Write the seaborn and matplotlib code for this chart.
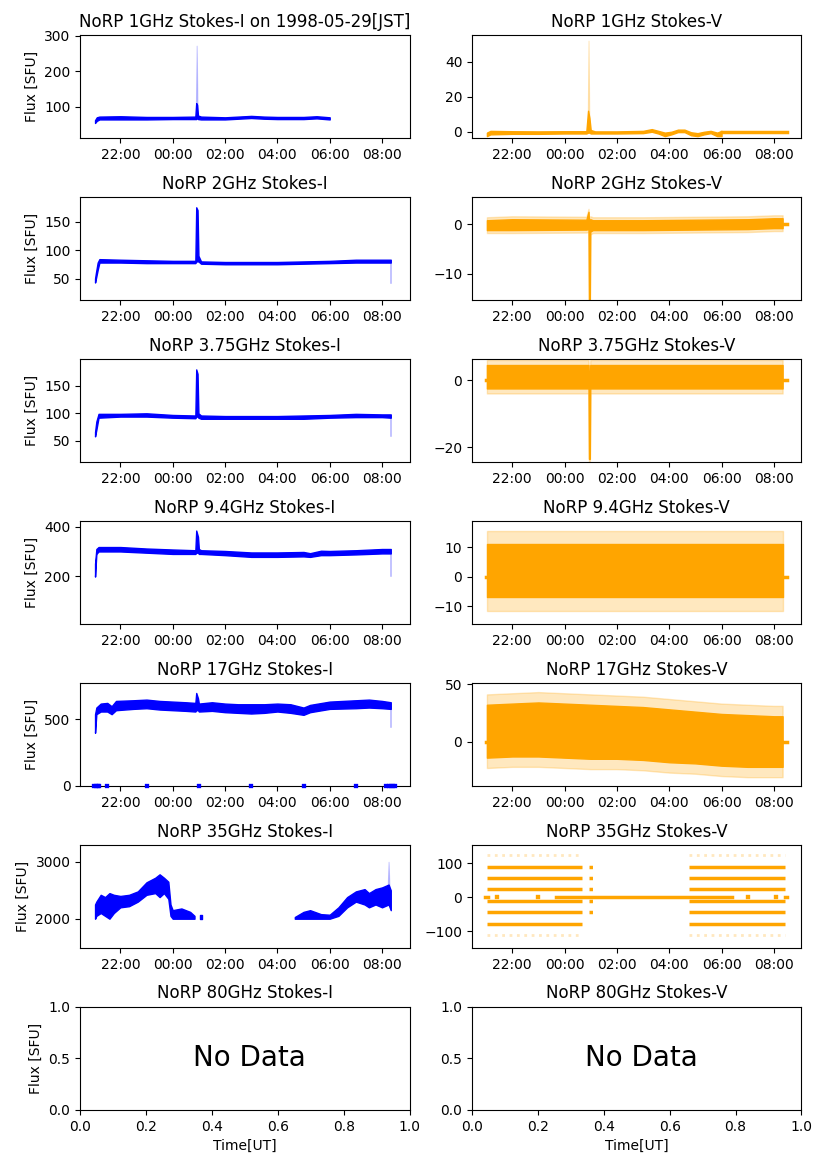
import numpy as np
import pandas as pd
import seaborn as sns
import matplotlib.pyplot as plt
import matplotlib.dates as mdates

# ---- data (times in UT, flux in SFU) ----
# 1 GHz
t_1g_i = ['21:02', '21:06', '21:12', '22:00', '23:00', '00:00', '00:52', '00:54', '00:56', '00:58', '01:05',
          '02:00', '03:00', '03:30', '04:00', '05:00', '05:30', '06:00']
lo_1g_i = [54, 60, 64, 64, 64, 65, 65, 65, 68, 65, 64, 64, 68, 66, 65, 65, 67, 64]
hi_1g_i = [62, 70, 72, 73, 71, 71, 72, 110, 105, 75, 72, 70, 74, 72, 71, 71, 73, 70]
spike_t_1g_i = ['00:53', '00:55', '00:57']
spike_hi_1g_i = [72, 272, 80]

t_1g_v = ['21:02', '21:10', '22:00', '23:00', '00:00', '00:50', '00:54', '00:57', '01:00', '01:10', '02:00',
          '03:00', '03:20', '03:35', '03:50', '04:05', '04:20', '04:35', '04:50', '05:05', '05:20', '05:35',
          '05:50', '06:00']
lo_1g_v = [-2.5, -1.5, -1.2, -1.2, -1.0, -1.0, -0.5, -0.5, -1.0, -1.0, -1.0,
           -0.8, 0.0, -1.0, -2.5, -1.5, -0.2, -0.2, -2.0, -2.5, -1.5, -0.8, -2.5, -2.5]
hi_1g_v = [-0.5, 0.5, 0.3, 0.2, 0.3, 0.3, 12, 8, 1.0, 0.2, 0.2,
           0.5, 1.5, 0.5, -0.5, 0.0, 1.2, 1.2, -0.3, -0.8, 0.0, 0.5, -0.5, 0.5]
spike_t_1g_v = ['00:53', '00:55', '00:57']
spike_hi_1g_v = [1, 52, 2]
flat_t_1g_v = ['06:00', '08:30']

# 2 GHz
t_2g_i = ['21:02', '21:04', '21:08', '21:12', '22:00', '23:00', '00:00', '00:52', '00:54', '00:57', '00:59',
          '01:05', '02:00', '03:00', '04:00', '05:00', '06:00', '07:00', '08:00', '08:20']
lo_2g_i = [43, 50, 65, 78, 78, 77, 77, 77, 80, 80, 80, 76, 75, 75, 75, 76, 77, 78, 78, 78]
hi_2g_i = [50, 60, 78, 84, 83, 82, 81, 81, 175, 170, 90, 80, 79, 79, 79, 80, 81, 83, 83, 83]
drop_lo_2g_i = 42

t_2g_v = ['21:02', '22:00', '00:50', '00:55', '00:56', '00:58', '00:59', '01:05', '03:00', '05:00', '07:00',
          '08:00', '08:20']
lo_2g_v = [-1.2, -1.2, -1.1, -1.0, -15.5, -15.5, -1.5, -1.2, -1.2, -1.1, -1.0, -0.8, -0.8]
hi_2g_v = [0.8, 1.0, 0.9, 2.5, 0.5, 0.5, 1.0, 0.8, 0.8, 0.9, 1.0, 1.2, 1.2]
out_2g_v = 0.6

# 3.75 GHz
t_3g_i = ['21:02', '21:05', '21:10', '22:00', '23:00', '00:00', '00:52', '00:54', '00:57', '00:59', '01:05',
          '02:00', '03:00', '04:00', '05:00', '06:00', '07:00', '08:00', '08:20']
lo_3g_i = [58, 70, 92, 94, 94, 92, 91, 94, 94, 92, 90, 90, 90, 90, 90, 92, 93, 93, 92]
hi_3g_i = [66, 85, 99, 99, 100, 97, 96, 180, 172, 100, 96, 95, 95, 95, 96, 97, 99, 98, 98]
drop_lo_3g_i = 58

t_3g_v = ['21:02', '00:55', '00:56', '00:58', '00:59', '08:20']
lo_3g_v = [-2.5, -2.5, -23.5, -23.5, -2.5, -2.5]
hi_3g_v = [4.5, 4.5, 0.0, 0.0, 4.5, 4.5]
out_3g_v = 1.5

# 9.4 GHz
t_9g_i = ['21:02', '21:05', '21:10', '22:00', '23:00', '00:00', '00:52', '00:54', '00:58', '01:00', '01:05',
          '02:00', '03:00', '04:00', '05:00', '05:15', '05:40', '06:00', '07:00', '08:00', '08:20']
lo_9g_i = [198, 290, 300, 300, 295, 290, 290, 295, 295, 290, 290, 285, 278, 278, 280, 278, 285, 285, 288, 292, 292]
hi_9g_i = [250, 310, 318, 318, 312, 308, 305, 385, 360, 310, 305, 302, 296, 296, 298, 293, 303, 302, 305, 310, 310]
drop_lo_9g_i = 200

t_9g_v = ['21:02', '08:20']
lo_9g_v = [-7, -7]
hi_9g_v = [11, 11]
out_9g_v = 4.5

# 17 GHz
t_17g_i = ['21:02', '21:05', '21:15', '21:30', '21:40', '21:50', '22:30', '23:00', '23:30', '00:00', '00:30',
           '00:52', '00:54', '00:58', '01:00', '01:30', '02:00', '02:30', '03:00', '03:30', '04:00', '04:30',
           '05:00', '05:15', '06:00', '07:00', '07:30', '08:00', '08:20']
lo_17g_i = [400, 540, 560, 560, 540, 570, 580, 585, 575, 570, 565, 560, 570, 570, 560, 565, 555, 550, 545,
            550, 560, 550, 535, 555, 580, 585, 590, 585, 580]
hi_17g_i = [540, 590, 620, 625, 600, 640, 645, 650, 640, 635, 630, 625, 700, 660, 620, 630, 620, 615, 615,
            615, 620, 615, 590, 610, 635, 645, 650, 640, 630]
drop_lo_17g_i = 440
zero_t_17g_i = ['21:00', '21:04', '21:08', '21:12', '21:30', '23:00', '01:00', '03:00', '05:00', '07:00',
                '08:10', '08:15', '08:20', '08:25', '08:30']

t_17g_v = ['21:02', '22:00', '23:00', '00:00', '01:00', '02:00', '03:00', '04:00', '05:00', '06:00', '07:00',
           '08:00', '08:20']
lo_17g_v = [-14, -13, -13, -14, -15, -15, -16, -18, -19, -21, -22, -22, -22]
hi_17g_v = [32, 33, 34, 33, 32, 31, 30, 28, 26, 24, 23, 22, 22]
out_17g_v = 9

# 35 GHz
t_35g_i_a = ['21:02', '21:05', '21:15', '21:25', '21:35', '21:45', '22:00', '22:20', '22:40', '23:00', '23:20',
             '23:30', '23:40', '23:50', '23:55', '00:00', '00:20', '00:40', '00:50']
lo_35g_i_a = [2000, 2050, 2100, 2050, 2000, 2100, 2200, 2220, 2300, 2420, 2450, 2380, 2450, 2350, 2050, 2000,
              2000, 2000, 2000]
hi_35g_i_a = [2250, 2300, 2420, 2380, 2450, 2420, 2400, 2420, 2480, 2640, 2720, 2780, 2720, 2650, 2250, 2150,
              2180, 2120, 2050]
t_35g_i_b = ['04:40', '05:00', '05:15', '05:40', '06:00', '06:20', '06:40', '07:00', '07:20', '07:30', '07:45',
             '08:00', '08:15', '08:20']
lo_35g_i_b = [2000, 2000, 2000, 2000, 2000, 2050, 2200, 2300, 2250, 2200, 2250, 2200, 2250, 2150]
hi_35g_i_b = [2030, 2120, 2150, 2080, 2070, 2200, 2380, 2480, 2520, 2450, 2520, 2550, 2600, 2500]
t_35g_i_c = ['01:02', '01:07']
lo_35g_i_c = [2000, 2000]
hi_35g_i_c = [2060, 2060]

levels_35g_v = [89, 57, 23, -11, -45, -79]
sparse_levels_35g_v = [125, -113]
spans_35g_v = [('21:02', '00:40'), ('04:45', '08:25')]
bits_35g_v = [('00:55', '01:05')]
zero_spans_35g_v = [('20:58', '21:05'), ('23:40', '06:25'), ('08:25', '08:30')]
zero_dots_35g_v = ['21:25', '23:00', '07:00', '08:05']


def tt(times):
    s = pd.to_datetime(['1998-05-29 ' + x for x in times])
    hours = np.array([int(x.split(':')[0]) for x in times])
    return s - pd.to_timedelta(np.where(hours >= 12, 1, 0), unit='D')


BLUE = 'blue'
ORANGE = 'orange'

fig, axes = plt.subplots(7, 2, figsize=(8.27, 11.69))
plt.subplots_adjust(left=0.097, right=0.969, top=0.970, bottom=0.0505, wspace=0.19, hspace=0.57)


def band(ax, t, lo, hi, color, alpha=1.0):
    ax.fill_between(tt(t), lo, hi, color=color, alpha=alpha, lw=1.0)


def faint_drop(ax, top, bottom, color):
    x = tt(['08:19', '08:21'])
    ax.fill_between(x, [bottom, bottom], [top, top], color=color, alpha=0.2, lw=0.5)


def zero_dash(ax, t0, t1, color):
    sns.lineplot(x=tt([t0, t1]), y=[0, 0], color=color, lw=2.5, ax=ax)


# row 1: 1 GHz
ax = axes[0, 0]
band(ax, t_1g_i, lo_1g_i, hi_1g_i, BLUE)
ax.fill_between(tt(spike_t_1g_i), [70, 70, 70], spike_hi_1g_i, color=BLUE, alpha=0.2, lw=0.8)
ax.set_ylim(11, 302)
ax.set_title('NoRP 1GHz Stokes-I on 1998-05-29[JST]')

ax = axes[0, 1]
band(ax, t_1g_v, lo_1g_v, hi_1g_v, ORANGE)
ax.fill_between(tt(spike_t_1g_v), [0, 0, 0], spike_hi_1g_v, color=ORANGE, alpha=0.25, lw=0.8)
sns.lineplot(x=tt(flat_t_1g_v), y=[0, 0], color=ORANGE, lw=2.5, ax=ax)
ax.set_ylim(-3.7, 55.2)
ax.set_title('NoRP 1GHz Stokes-V')

# row 2: 2 GHz
ax = axes[1, 0]
band(ax, t_2g_i, lo_2g_i, hi_2g_i, BLUE)
faint_drop(ax, 80, drop_lo_2g_i, BLUE)
ax.set_ylim(12, 193)
ax.set_title('NoRP 2GHz Stokes-I')

ax = axes[1, 1]
band(ax, t_2g_v, np.array(lo_2g_v) - out_2g_v, np.array(hi_2g_v) + out_2g_v, ORANGE, alpha=0.25)
band(ax, t_2g_v, lo_2g_v, hi_2g_v, ORANGE)
zero_dash(ax, '08:20', '08:29', ORANGE)
ax.set_ylim(-15.4, 5.5)
ax.set_title('NoRP 2GHz Stokes-V')

# row 3: 3.75 GHz
ax = axes[2, 0]
band(ax, t_3g_i, lo_3g_i, hi_3g_i, BLUE)
faint_drop(ax, 95, drop_lo_3g_i, BLUE)
ax.set_ylim(11, 199)
ax.set_yticks([50, 100, 150])
ax.set_title('NoRP 3.75GHz Stokes-I')

ax = axes[2, 1]
band(ax, t_3g_v, np.array(lo_3g_v) - out_3g_v, np.array(hi_3g_v) + out_3g_v, ORANGE, alpha=0.25)
band(ax, t_3g_v, lo_3g_v, hi_3g_v, ORANGE)
zero_dash(ax, '20:59', '21:02', ORANGE)
zero_dash(ax, '08:20', '08:29', ORANGE)
ax.set_ylim(-24.5, 6.3)
ax.set_title('NoRP 3.75GHz Stokes-V')

# row 4: 9.4 GHz
ax = axes[3, 0]
band(ax, t_9g_i, lo_9g_i, hi_9g_i, BLUE)
faint_drop(ax, 300, drop_lo_9g_i, BLUE)
ax.set_ylim(5, 424)
ax.set_title('NoRP 9.4GHz Stokes-I')

ax = axes[3, 1]
band(ax, t_9g_v, np.array(lo_9g_v) - out_9g_v, np.array(hi_9g_v) + out_9g_v, ORANGE, alpha=0.25)
band(ax, t_9g_v, lo_9g_v, hi_9g_v, ORANGE)
zero_dash(ax, '20:59', '21:02', ORANGE)
zero_dash(ax, '08:20', '08:29', ORANGE)
ax.set_ylim(-16, 18.8)
ax.set_title('NoRP 9.4GHz Stokes-V')

# row 5: 17 GHz
ax = axes[4, 0]
band(ax, t_17g_i, lo_17g_i, hi_17g_i, BLUE)
faint_drop(ax, 600, drop_lo_17g_i, BLUE)
sns.scatterplot(x=tt(zero_t_17g_i), y=np.zeros(len(zero_t_17g_i)), color=BLUE, marker='s', s=8,
                edgecolor=BLUE, ax=ax, clip_on=False, zorder=3)
ax.set_ylim(-2, 776)
ax.set_title('NoRP 17GHz Stokes-I')

ax = axes[4, 1]
band(ax, t_17g_v, np.array(lo_17g_v) - out_17g_v, np.array(hi_17g_v) + out_17g_v, ORANGE, alpha=0.25)
band(ax, t_17g_v, lo_17g_v, hi_17g_v, ORANGE)
zero_dash(ax, '20:59', '21:02', ORANGE)
zero_dash(ax, '08:20', '08:29', ORANGE)
ax.set_ylim(-38.7, 51)
ax.set_title('NoRP 17GHz Stokes-V')

# row 6: 35 GHz
ax = axes[5, 0]
band(ax, t_35g_i_a, lo_35g_i_a, hi_35g_i_a, BLUE)
band(ax, t_35g_i_b, lo_35g_i_b, hi_35g_i_b, BLUE)
band(ax, t_35g_i_c, lo_35g_i_c, hi_35g_i_c, BLUE)
ax.fill_between(tt(['08:13', '08:15', '08:17']), [2500, 2500, 2500], [2550, 3000, 2550],
                color=BLUE, alpha=0.2, lw=0.8)
ax.set_ylim(1485, 3298)
ax.set_title('NoRP 35GHz Stokes-I')

ax = axes[5, 1]
for t0, t1 in spans_35g_v:
    for lev in levels_35g_v:
        ax.hlines(lev, tt([t0])[0], tt([t1])[0], color=ORANGE, lw=2.5)
    for lev in sparse_levels_35g_v:
        ax.hlines(lev, tt([t0])[0], tt([t1])[0], color=ORANGE, lw=2, alpha=0.25, linestyles=':')
for t0, t1 in bits_35g_v:
    for lev in levels_35g_v[:-1]:
        ax.hlines(lev, tt([t0])[0], tt([t1])[0], color=ORANGE, lw=2.5, linestyles=':')
for t0, t1 in zero_spans_35g_v:
    zero_dash(ax, t0, t1, ORANGE)
sns.scatterplot(x=tt(zero_dots_35g_v), y=np.zeros(len(zero_dots_35g_v)), color=ORANGE, marker='s', s=10,
                edgecolor=ORANGE, ax=ax, zorder=3)
ax.set_ylim(-150, 155)
ax.set_title('NoRP 35GHz Stokes-V')

# time axes for rows 1-6
xmin, xmax = tt(['20:28'])[0], tt(['09:03'])[0]
for ax in axes[:6].ravel():
    ax.set_xlim(xmin, xmax)
    ax.xaxis.set_major_locator(mdates.HourLocator(byhour=range(0, 24, 2)))
    ax.xaxis.set_major_formatter(mdates.DateFormatter('%H:%M'))
    ax.set_xlabel('')
    ax.set_ylabel('')

# row 7: 80 GHz (no data)
for ax, name in zip(axes[6], ['NoRP 80GHz Stokes-I', 'NoRP 80GHz Stokes-V']):
    ax.set_xlim(0, 1)
    ax.set_ylim(0, 1)
    ax.text(0.515, 0.5, 'No Data', ha='center', va='center', fontsize=20, transform=ax.transAxes)
    ax.set_title(name)
    ax.set_xlabel('Time[UT]')

for ax in axes[:, 0]:
    ax.set_ylabel('Flux [SFU]')

plt.savefig('out.png', dpi=100)
